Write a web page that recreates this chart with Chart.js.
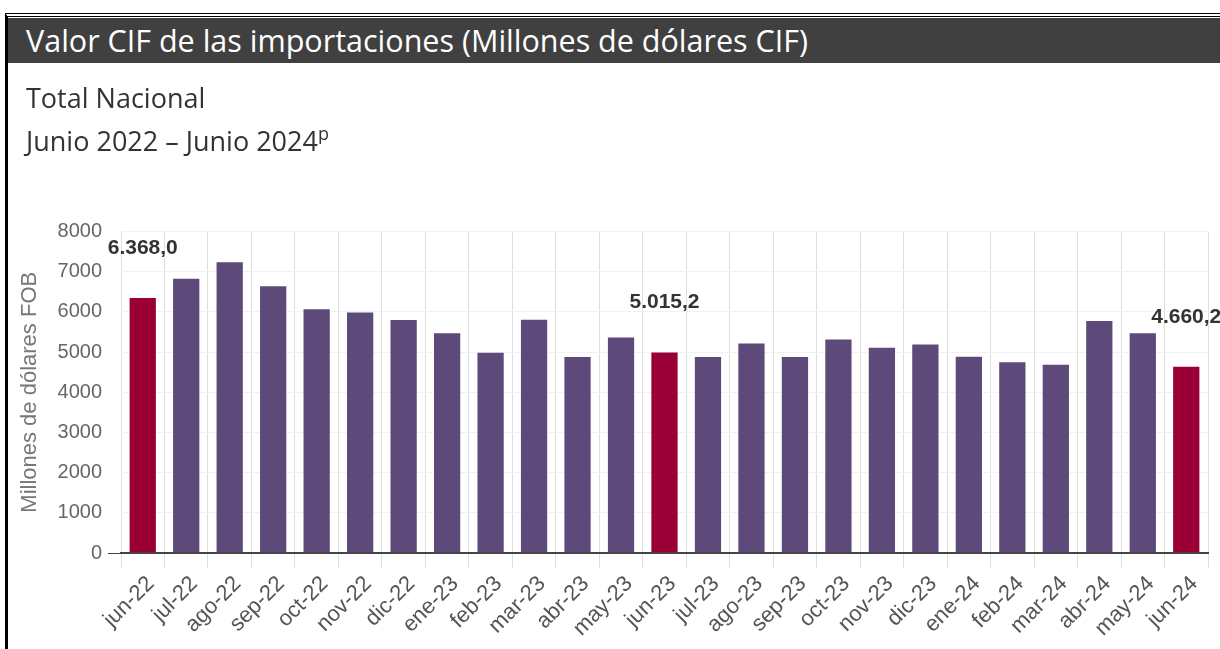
<!DOCTYPE html>
<html>
<head>
<meta charset="utf-8">
<script src="https://cdn.jsdelivr.net/npm/chart.js@4.4.0/dist/chart.umd.min.js"></script>
<style>
  body { margin: 0; background: #fff; width: 1220px; height: 649px; overflow: hidden; position: relative; font-family: "Open Sans", sans-serif; }
  #chart { position: absolute; left: 0; top: 0; }
  .frame { position: absolute; left: 5px; top: 13px; width: 1240px; height: 660px; border-left: 3px solid #000; border-top: 4px double #000; }
  .head { position: absolute; left: 8px; top: 18px; width: 1195px; height: 45px; padding-left: 18px; background: #404040; color: #fff; font-size: 30.5px; line-height: 45px; white-space: nowrap; }
  .sub { position: absolute; left: 26px; color: #333; font-size: 27px; line-height: 34px; white-space: nowrap; }
  .sub sup { font-size: 18px; vertical-align: 11px; line-height: 0; }
</style>
</head>
<body>
<canvas id="chart" width="1220" height="649"></canvas>
<div class="frame"></div>
<div class="head">Valor CIF de las importaciones (Millones de dólares CIF)</div>
<div class="sub" style="top:81px">Total Nacional</div>
<div class="sub" style="top:124px">Junio 2022 – Junio 2024<sup>p</sup></div>
<script>
// Datos
var months = ["jun-22", "jul-22", "ago-22", "sep-22", "oct-22", "nov-22", "dic-22",
  "ene-23", "feb-23", "mar-23", "abr-23", "may-23", "jun-23", "jul-23", "ago-23",
  "sep-23", "oct-23", "nov-23", "dic-23", "ene-24", "feb-24", "mar-24", "abr-24",
  "may-24", "jun-24"];
var importValues = [6368.0, 6850, 7260, 6660, 6090, 6010, 5820, 5490, 5010, 5830,
  4900, 5390, 5015.2, 4905, 5240, 4905, 5340, 5130, 5210, 4910, 4770, 4710, 5800,
  5490, 4660.2];
var highlightMonths = ["jun-22", "jun-23", "jun-24"];
var yTicks = [0, 1000, 2000, 3000, 4000, 5000, 6000, 7000, 8000];

var purple = "#5e4a7a";
var red = "#9a0036";

var barColors = months.map(function (m) {
  return highlightMonths.indexOf(m) >= 0 ? red : purple;
});

function fmt(v) {
  return v.toLocaleString("de-DE", { minimumFractionDigits: 1, maximumFractionDigits: 1 });
}

// Etiquetas sobre las barras destacadas
var valueLabels = {
  id: "valueLabels",
  afterDatasetsDraw: function (chart) {
    var ctx = chart.ctx;
    var meta = chart.getDatasetMeta(0);
    ctx.save();
    ctx.font = "bold 21px 'Liberation Sans', Arial, sans-serif";
    ctx.fillStyle = "#333";
    ctx.textAlign = "center";
    ctx.textBaseline = "middle";
    highlightMonths.forEach(function (m) {
      var i = months.indexOf(m);
      var bar = meta.data[i];
      ctx.fillText(fmt(importValues[i]), bar.x, bar.y - 49);
    });
    ctx.restore();
  }
};

var tickFont = { family: "'Liberation Sans', Arial, sans-serif", size: 20 };

new Chart(document.getElementById("chart"), {
  type: "bar",
  data: {
    labels: months,
    datasets: [{
      data: importValues,
      backgroundColor: barColors,
      borderColor: "rgba(255,255,255,0.25)",
      borderWidth: 1,
      categoryPercentage: 1,
      barPercentage: 0.65
    }]
  },
  options: {
    responsive: false,
    animation: false,
    layout: { padding: { top: 231.5, right: 12, left: 0, bottom: 0 } },
    plugins: {
      legend: { display: false },
      tooltip: { enabled: false }
    },
    scales: {
      x: {
        grid: { color: "#dedede", tickColor: "#dedede", tickLength: 15, offset: true },
        border: { color: "#444", width: 2 },
        ticks: {
          autoSkip: false,
          minRotation: 45,
          maxRotation: 45,
          color: "#555",
          font: { family: "'Liberation Sans', Arial, sans-serif", size: 22 },
          padding: 3,
          labelOffset: 8
        },
        afterFit: function (scale) { scale.height = 96; }
      },
      y: {
        min: 0,
        max: 8000,
        afterBuildTicks: function (scale) {
          scale.ticks = yTicks.map(function (v) { return { value: v }; });
        },
        grid: {
          color: function (c) { return c.tick && c.tick.value === 0 ? "#444" : "#f1f1f1"; },
          tickColor: function (c) { return c.tick && c.tick.value === 0 ? "#444" : "rgba(0,0,0,0)"; },
          tickLength: 13
        },
        border: { display: false },
        ticks: {
          color: "#666",
          font: tickFont,
          padding: 6,
          callback: function (v) { return String(v); }
        },
        title: {
          display: true,
          text: "Millones de dólares FOB",
          color: "#777",
          font: { family: "'Liberation Sans', Arial, sans-serif", size: 22 },
          padding: { top: 17, bottom: 0 }
        },
        afterFit: function (scale) { scale.width = 121; }
      }
    }
  },
  plugins: [valueLabels]
});
</script>
</body>
</html>
